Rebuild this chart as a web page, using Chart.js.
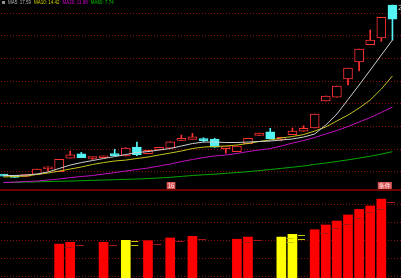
<!DOCTYPE html>
<html><head><meta charset="utf-8">
<script src="https://cdn.jsdelivr.net/npm/chart.js@4.4.1/dist/chart.umd.min.js"></script>
<style>
html,body{margin:0;padding:0;background:#000;overflow:hidden;width:401px;height:278px}
#wrap{position:relative;width:401px;height:278px;overflow:hidden}
canvas{position:absolute;left:-2px}
#top{top:0}
#sep{position:absolute;left:0;top:189px;width:401px;height:2px;background:#6e0000}
#bot{top:191px}
</style></head><body>
<div id="wrap">
<canvas id="top" width="403" height="189"></canvas>
<div id="sep"></div>
<canvas id="bot" width="403" height="87"></canvas>
</div>
<script>
// ---- data ----
const days = ['01','02','03','04','05','06','07','08','09','10','11','12','13','14','15','16','17','18',
              '19','20','21','22','23','24','25','26','27','28','29','30','31','32','33','34','35','36'];
const priceOpen  = [5.73,5.66,5.55,5.74,6.22,5.97,7.18,7.56,7.14,7.21,7.45,7.36,8.15,7.56,7.89,8.06,8.74,8.83,
                    8.77,8.86,8.01,7.74,8.44,9.18,9.50,8.83,9.24,9.54,9.83,12.21,12.56,14.15,15.65,17.18,17.77,20.68];
const priceClose = [5.59,5.48,5.68,6.21,6.24,7.07,7.47,7.21,7.18,7.36,7.40,8.06,7.47,7.86,8.13,8.62,8.92,9.06,
                    8.72,8.13,8.04,8.24,8.92,9.39,8.86,9.01,9.56,9.80,11.06,12.65,13.53,15.12,16.80,17.59,19.59,19.44];
const priceHigh  = [5.73,5.66,5.70,6.21,6.41,7.07,7.80,7.68,7.25,7.36,7.95,8.10,8.59,7.86,8.13,8.62,9.21,9.36,
                    8.97,8.92,8.04,8.24,8.92,9.39,9.80,9.01,9.83,10.03,11.06,12.65,13.53,15.12,16.80,18.47,19.59,20.68];
const priceLow   = [5.59,5.48,5.55,5.74,6.04,5.97,7.18,7.21,7.05,7.21,7.40,7.36,7.40,7.56,7.89,8.06,8.74,8.83,
                    8.62,8.13,7.60,7.74,8.44,9.18,8.86,8.70,9.24,9.54,9.83,12.21,12.56,13.62,14.86,17.18,17.48,17.59];
const ma5  = [5.64,5.64,5.68,5.77,5.95,6.26,6.56,6.78,6.96,7.14,7.31,7.49,7.67,7.75,7.89,8.02,8.24,8.46,
              8.59,8.59,8.55,8.55,8.59,8.64,8.68,8.77,8.86,9.03,9.30,10.09,11.06,12.34,13.62,14.94,16.27,17.59];
const ma10 = [5.51,5.55,5.59,5.73,5.86,6.03,6.21,6.39,6.61,6.78,6.92,7.00,7.14,7.27,7.45,7.62,7.80,8.02,
              8.15,8.20,8.24,8.33,8.46,8.64,8.77,8.95,9.08,9.25,9.56,9.92,10.45,10.97,11.59,12.30,13.27,14.42];
const ma20 = [5.02,5.06,5.11,5.15,5.24,5.33,5.46,5.55,5.64,5.77,5.90,6.03,6.17,6.30,6.48,6.65,6.87,7.05,
              7.23,7.36,7.45,7.58,7.75,7.89,8.02,8.24,8.50,8.73,8.99,9.30,9.61,9.96,10.36,10.75,11.20,11.68];
const ma60 = [5.02,5.04,5.06,5.08,5.11,5.13,5.15,5.18,5.21,5.24,5.27,5.30,5.33,5.37,5.42,5.48,5.56,5.64,
              5.70,5.76,5.83,5.90,5.98,6.07,6.17,6.27,6.37,6.48,6.62,6.74,6.88,7.02,7.18,7.34,7.53,7.74];
const vol = [null,null,null,null,null,1.79,1.89,null,null,1.89,null,2.00,null,1.98,null,2.13,null,2.22,
             null,null,null,2.06,2.18,null,null,2.18,2.33,null,2.59,2.85,3.07,3.41,3.72,3.91,4.29,null];
const volWarnDays = [11,25,26];
const priceMin = 4.45, priceMax = 21.12;
const priceGrid = [6,8,10,12,14,16,18,20];
const volMin = -0.094, volMax = 4.74;
const volGrid = [0,1,2,3,4];
const signalDays = [15,34];
const signalText = ['16','条件'];

// ---- styling ----
const RED = '#ff3232', CYAN = '#54f4f4', GRIDC = '#8a0c0c';
const isUp = i => priceClose[i] >= priceOpen[i];
const candleColor = priceOpen.map((o,i) => isUp(i) ? RED : CYAN);

function dottedGrid(values){
  return { id:'dottedGrid', beforeDatasetsDraw(chart){
    const {ctx, scales:{y}} = chart;
    ctx.save(); ctx.strokeStyle = GRIDC; ctx.lineWidth = 1; ctx.setLineDash([1,2]);
    values.forEach(v => {
      const py = Math.round(y.getPixelForValue(v)) + 0.5;
      ctx.beginPath(); ctx.moveTo(0, py); ctx.lineTo(chart.width, py); ctx.stroke();
    });
    ctx.restore();
  }};
}

const topDecor = { id:'topDecor', afterDraw(chart){
  const {ctx, scales:{x, y}, chartArea:a} = chart;
  ctx.save();
  // legend
  ctx.font = '4.5px "Liberation Sans"'; ctx.textBaseline = 'top';
  ctx.fillStyle = '#909090'; ctx.fillRect(4, 1, 3, 3);
  const items = [['MA5: ' + ma5[ma5.length-1].toFixed(2), '#b4b4b4'],
                 ['MA10: ' + ma10[ma10.length-1].toFixed(2), '#d2d200'],
                 ['MA20: ' + ma20[ma20.length-1].toFixed(2), '#d200d2'],
                 ['MA60: ' + ma60[ma60.length-1].toFixed(2), '#00c800']];
  let tx = 10;
  items.forEach(([t,c]) => { ctx.fillStyle = c; ctx.fillText(t, tx, 0.5); tx += ctx.measureText(t).width + 3; });
  // high price label
  const li = priceHigh.length - 1;
  ctx.font = '7px "DejaVu Sans"'; ctx.fillStyle = '#c8c8c8'; ctx.textBaseline = 'middle';
  ctx.fillText(priceHigh[li].toFixed(2), x.getPixelForValue(li) + 5.5, y.getPixelForValue(priceHigh[li]) + 3);
  // signal boxes
  ctx.font = '6px "Noto Sans CJK SC"'; ctx.textBaseline = 'middle';
  signalDays.forEach((d, k) => {
    const t = signalText[k]; const w = ctx.measureText(t).width + 2;
    const bx = x.getPixelForValue(d) - 3.5, by = a.bottom - 7;
    ctx.fillStyle = '#d85858'; ctx.fillRect(bx, by, w, 7);
    ctx.fillStyle = '#ffe4e4'; ctx.fillText(t, bx + 1, by + 3.8);
  });
  ctx.restore();
}};

const volMarks = { id:'volMarks', afterDatasetsDraw(chart){
  const {ctx} = chart; const meta = chart.getDatasetMeta(0);
  ctx.save(); ctx.lineWidth = 1;
  meta.data.forEach((el, i) => {
    if (vol[i] == null) return;
    const r = el.x + el.width/2;
    if (volWarnDays.includes(i)) {
      ctx.strokeStyle = '#c8c800';
      [1.5, 5.5].forEach(dy => { ctx.beginPath(); ctx.moveTo(r+1, Math.round(el.y)+dy); ctx.lineTo(r+8, Math.round(el.y)+dy); ctx.stroke(); });
    } else {
      ctx.strokeStyle = '#a81414';
      ctx.beginPath(); ctx.moveTo(r+1, Math.round(el.y)+3.5); ctx.lineTo(r+9, Math.round(el.y)+3.5); ctx.stroke();
    }
  });
  ctx.restore();
}};

const lineDs = (label, data, color) => ({type:'line', label, data, borderColor:color, borderWidth:1,
  pointRadius:0, tension:0, order:0});

new Chart(document.getElementById('top'), {
  type:'bar',
  data:{ labels: days, datasets:[
    lineDs('MA5', ma5, '#cfcfcf'),
    lineDs('MA10', ma10, '#c4c41c'),
    lineDs('MA20', ma20, '#c010c0'),
    lineDs('MA60', ma60, '#00a800'),
    {label:'body', data: priceOpen.map((o,i) => [o, priceClose[i]]),
     backgroundColor: priceOpen.map((o,i) => isUp(i) ? '#000000' : CYAN),
     borderColor: candleColor, borderWidth:1, borderSkipped:false,
     barThickness:9, minBarLength:2, grouped:false, order:1},
    {label:'wick', data: priceLow.map((l,i) => [l, priceHigh[i]]),
     backgroundColor: candleColor, borderWidth:0, barThickness:1, grouped:false, order:2}
  ]},
  options:{ responsive:false, animation:false, events:[],
    layout:{padding:{left:0,right:3,top:0,bottom:0}},
    plugins:{legend:{display:false}, tooltip:{enabled:false}},
    scales:{ x:{display:false, offset:true}, y:{display:false, min:priceMin, max:priceMax} } },
  plugins:[dottedGrid(priceGrid), topDecor]
});

new Chart(document.getElementById('bot'), {
  type:'bar',
  data:{ labels: days, datasets:[
    {label:'VOL', data: vol, base: volMin,
     backgroundColor: vol.map((v,i) => volWarnDays.includes(i) ? '#ffff00' : '#ff0000'),
     borderWidth:0, barThickness:9}
  ]},
  options:{ responsive:false, animation:false, events:[],
    layout:{padding:{left:0,right:3,top:0,bottom:0}},
    plugins:{legend:{display:false}, tooltip:{enabled:false}},
    scales:{ x:{display:false, offset:true}, y:{display:false, min:volMin, max:volMax} } },
  plugins:[dottedGrid(volGrid), volMarks]
});
</script>
</body></html>
